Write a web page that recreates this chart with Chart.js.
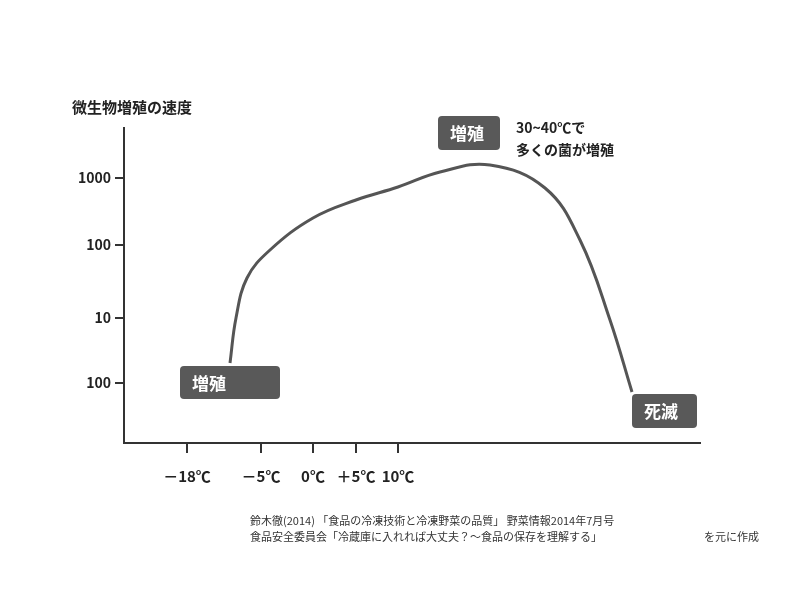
<!DOCTYPE html>
<html lang="ja">
<head>
<meta charset="UTF-8">
<script src="https://cdn.jsdelivr.net/npm/chart.js"></script>
<style>
  body { margin: 0; background: #fff; }
</style>
</head>
<body>
<canvas id="c" width="800" height="600"></canvas>
<script>
// axis positions (arbitrary units along each axis) and their labels
const xTickPos = [63, 137, 189, 232, 274];
const xTickLabels = ["－18℃", "－5℃", "0℃", "＋5℃", "10℃"];
const yTickPos = [60, 125, 198, 265];
const yTickLabels = ["100", "10", "100", "1000"];
// growth curve
const curveX = [106, 112, 123, 146, 189, 232, 274, 316, 366, 421, 456, 486, 508];
const curveY = [80, 125, 165, 193, 225, 243, 256, 271, 278, 255, 203, 123, 51];

const FONT = "'Noto Sans CJK JP', 'Noto Sans', sans-serif";

function box(ctx, x, y, w, h, text) {
  ctx.fillStyle = "#595959";
  ctx.beginPath();
  ctx.roundRect(x, y, w, h, 4);
  ctx.fill();
  ctx.fillStyle = "#fff";
  ctx.font = "bold 17px " + FONT;
  ctx.textBaseline = "middle";
  ctx.fillText(text, x + 12, y + h / 2 + 1);
}

const notes = {
  id: "notes",
  afterDraw(chart) {
    const ctx = chart.ctx;
    ctx.save();
    ctx.fillStyle = "#222";
    ctx.font = "bold 15px " + FONT;
    ctx.textBaseline = "alphabetic";
    ctx.fillText("微生物増殖の速度", 72, 113);
    ctx.font = "bold 14px " + FONT;
    ctx.fillText("30~40℃で", 516, 133);
    ctx.fillText("多くの菌が増殖", 516, 155);
    ctx.font = "11px " + FONT;
    ctx.fillStyle = "#333";
    ctx.fillText("鈴木徹(2014) 「食品の冷凍技術と冷凍野菜の品質」 野菜情報2014年7月号", 250, 525);
    ctx.fillText("食品安全委員会「冷蔵庫に入れれば大丈夫？～食品の保存を理解する」", 250, 541);
    ctx.fillText("を元に作成", 704, 541);
    box(ctx, 180, 366, 100, 33, "増殖");
    box(ctx, 438, 116, 62, 34, "増殖");
    box(ctx, 632, 394, 65, 34, "死滅");
    ctx.restore();
  }
};

new Chart(document.getElementById("c"), {
  type: "line",
  data: {
    datasets: [{
      data: curveX.map((x, i) => ({ x: x, y: curveY[i] })),
      borderColor: "#555",
      borderWidth: 3,
      pointRadius: 0,
      tension: 0.4,
      fill: false
    }]
  },
  options: {
    responsive: false,
    animation: false,
    devicePixelRatio: 1,
    layout: { padding: { top: 128, right: 100, left: 0, bottom: 0 } },
    plugins: { legend: { display: false }, tooltip: { enabled: false } },
    scales: {
      x: {
        type: "linear", min: 0, max: 576,
        afterBuildTicks: s => { s.ticks = xTickPos.map(v => ({ value: v })); },
        afterFit: s => { s.height = 157; },
        ticks: {
          callback: (v) => xTickLabels[xTickPos.indexOf(v)],
          color: "#222", font: { family: FONT, size: 15, weight: "bold" },
          padding: 14, maxRotation: 0, autoSkip: false
        },
        grid: { drawOnChartArea: false, tickLength: 10, color: "#333", lineWidth: 2 },
        border: { color: "#333", width: 2 }
      },
      y: {
        type: "linear", min: 0, max: 315,
        afterBuildTicks: s => { s.ticks = yTickPos.map(v => ({ value: v })); },
        afterFit: s => { s.width = 124; },
        ticks: {
          callback: (v) => yTickLabels[yTickPos.indexOf(v)],
          color: "#222", font: { family: FONT, size: 14, weight: "bold" },
          padding: 4, autoSkip: false
        },
        grid: { drawOnChartArea: false, tickLength: 9, color: "#333", lineWidth: 2 },
        border: { color: "#333", width: 2 }
      }
    }
  },
  plugins: [notes]
});
</script>
</body>
</html>
